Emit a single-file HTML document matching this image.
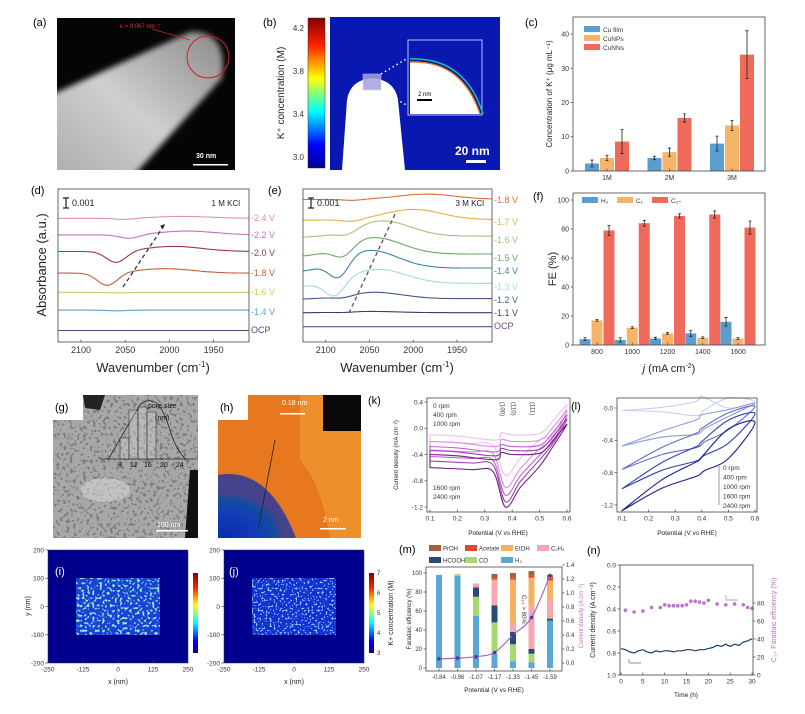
<!DOCTYPE html>
<html><head><meta charset="utf-8"><style>
html,body{margin:0;padding:0;background:#fff;}
svg{display:block;font-family:"Liberation Sans",sans-serif;}
</style></head><body>
<svg id="fig" width="805" height="714" viewBox="0 0 805 714" xmlns="http://www.w3.org/2000/svg">
<defs>
<linearGradient id="rodg" x1="0" y1="1" x2="1" y2="0"><stop offset="0" stop-color="#a8a8a8"/><stop offset="0.5" stop-color="#cfcfcf"/><stop offset="1" stop-color="#8a8a8a"/></linearGradient>
<linearGradient id="jet" x1="0" y1="1" x2="0" y2="0"><stop offset="0" stop-color="#00008f"/><stop offset="0.15" stop-color="#0000ff"/><stop offset="0.38" stop-color="#00ffff"/><stop offset="0.6" stop-color="#ffff00"/><stop offset="0.82" stop-color="#ff2000"/><stop offset="1" stop-color="#800000"/></linearGradient>
<filter id="blur2"><feGaussianBlur stdDeviation="3"/></filter>
<clipPath id="clipA"><rect x="57" y="18" width="178" height="152"/></clipPath>
<clipPath id="clipG"><path d="M83,395 L198,395 L198,538 L53,538 L53,420 L83,420 Z"/></clipPath>
<filter id="spots" x="0" y="0" width="100%" height="100%"><feTurbulence type="fractalNoise" baseFrequency="0.3" numOctaves="2" seed="3"/><feColorMatrix type="matrix" values="0 0 0 0 0.15  0 0 0 0 0.15  0 0 0 0 0.15  0 0 0 -9 4.0"/></filter>
<filter id="speck" x="0" y="0" width="100%" height="100%"><feTurbulence type="fractalNoise" baseFrequency="0.4" numOctaves="1" seed="7"/><feColorMatrix type="matrix" values="0 0 0 0 0.3  0 0 0 0 0.9  0 0 0 0 0.6  0 0 0 -9 4.1"/></filter>
<filter id="speck2" x="0" y="0" width="100%" height="100%"><feTurbulence type="fractalNoise" baseFrequency="0.5" numOctaves="1" seed="11"/><feColorMatrix type="matrix" values="0 0 0 0 0.25  0 0 0 0 0.6  0 0 0 0 1  0 0 0 -9 4.0"/></filter>
<radialGradient id="hblue" cx="0.1" cy="1" r="0.65"><stop offset="0" stop-color="#001a9a"/><stop offset="0.6" stop-color="#1a6ad0"/><stop offset="0.85" stop-color="#1aa060"/><stop offset="1" stop-color="#1aa060" stop-opacity="0"/></radialGradient>
</defs>

<!-- panel a -->
<g>
<rect x="57" y="18" width="178" height="152" fill="#050505"/>
<g clip-path="url(#clipA)"><path d="M40,100 L190,32 Q228,30 222,78 L125,185 L40,185 Z" fill="url(#rodg)" filter="url(#blur2)"/></g>
<circle cx="208" cy="57" r="21" fill="none" stroke="#d02020" stroke-width="1"/>
<line x1="152" y1="29" x2="190" y2="40" stroke="#d02020" stroke-width="0.8"/>
<text x="120" y="28" font-size="6" fill="#e03030">κ = 0.067 nm⁻¹</text>
<text x="196" y="158" font-size="7" fill="#fff" font-weight="bold">30 nm</text>
<rect x="193" y="164" width="35" height="1.5" fill="#fff"/>
</g>
<text x="33" y="26" font-size="11">(a)</text>

<!-- panel b -->
<g>
<rect x="308" y="18" width="17" height="150" fill="url(#jet)" stroke="#333" stroke-width="0.5"/>
<text x="304" y="31" font-size="8" text-anchor="end" fill="#333">4.2</text>
<text x="304" y="74" font-size="8" text-anchor="end" fill="#333">3.8</text>
<text x="304" y="117" font-size="8" text-anchor="end" fill="#333">3.4</text>
<text x="304" y="160" font-size="8" text-anchor="end" fill="#333">3.0</text>
<text transform="translate(284,93) rotate(-90)" font-size="10" text-anchor="middle" fill="#222">K⁺ concentration (M)</text>
<rect x="330" y="17" width="170" height="153" fill="#0818b0"/>
<path d="M342,170 L347,100 Q350,80 372,78 Q395,80 398,100 L405,170 Z" fill="#fff"/>
<rect x="363" y="74" width="18" height="16" fill="#a6a0e0" stroke="#d0d0ff" stroke-width="0.6" opacity="0.85"/>
<line x1="381" y1="74" x2="408" y2="58" stroke="#fff" stroke-width="1.5" stroke-dasharray="1.5,3"/>
<line x1="381" y1="90" x2="408" y2="106" stroke="#fff" stroke-width="1.5" stroke-dasharray="1.5,3"/>
<rect x="408" y="40" width="74" height="75" fill="#0818b0" stroke="#b8c0ff" stroke-width="1"/>
<path d="M410,62 Q462,60 480,114 L410,114 Z" fill="#fff"/>
<path d="M410,62 Q462,60 480,114" fill="none" stroke="#e08020" stroke-width="1.4"/>
<path d="M410,59 Q465,57 483,114" fill="none" stroke="#20c0a0" stroke-width="1.5"/>
<text x="418" y="96" font-size="6" fill="#000">2 nm</text>
<rect x="417" y="99" width="15" height="2" fill="#000"/>
<text x="455" y="155" font-size="12" font-weight="bold" fill="#fff">20 nm</text>
<rect x="466" y="160" width="20" height="3" fill="#fff"/>
</g>
<text x="263" y="26" font-size="11">(b)</text>

<text x="525" y="26" font-size="11">(c)</text>
<text x="31" y="194" font-size="11">(d)</text>
<text x="268" y="194" font-size="11">(e)</text>
<text x="533" y="200" font-size="11">(f)</text>

<!-- panel g -->
<g>
<g clip-path="url(#clipG)">
<rect x="53" y="395" width="145" height="143" fill="#a8a8a8"/>
<rect x="53" y="395" width="145" height="143" fill="#000" filter="url(#spots)" opacity="0.7"/>
<ellipse cx="105" cy="490" rx="25" ry="12" fill="#dcdcdc" opacity="0.5"/>
</g>
<path d="M83,395 L105,395 L100,410 L85,408 Z" fill="#222"/>
<path d="M190,470 L198,470 L198,538 L185,538 Z" fill="#111"/>
<path d="M153,402 Q160,400 170,430 Q175,448 186,460 M108,460 Q125,430 140,405 Q148,398 153,402" fill="none" stroke="#222" stroke-width="0.8"/>
<line x1="100" y1="459" x2="196" y2="459" stroke="#222" stroke-width="0.7"/>
<rect x="120" y="438" width="9" height="21" fill="#ddd" fill-opacity="0.3" stroke="#222" stroke-width="0.5"/>
<rect x="129" y="410" width="9" height="49" fill="#ddd" fill-opacity="0.3" stroke="#222" stroke-width="0.5"/>
<rect x="138" y="407" width="9" height="52" fill="#ddd" fill-opacity="0.3" stroke="#222" stroke-width="0.5"/>
<rect x="147" y="412" width="9" height="47" fill="#ddd" fill-opacity="0.3" stroke="#222" stroke-width="0.5"/>
<text x="118" y="467" font-size="7" fill="#111">8</text><text x="130" y="467" font-size="7" fill="#111">12</text><text x="144" y="467" font-size="7" fill="#111">16</text><text x="160" y="467" font-size="7" fill="#111">20</text><text x="176" y="467" font-size="7" fill="#111">24</text>
<text x="148" y="408" font-size="7" fill="#111">pore size</text><text x="155" y="420" font-size="7" fill="#111">(nm)</text>
<text x="157" y="527" font-size="7" fill="#fff">100 nm</text>
<rect x="156" y="530" width="32" height="1.5" fill="#fff"/>
</g>
<text x="55" y="411" font-size="11">(g)</text>

<!-- panel h -->
<g>
<path d="M248,395 L361,395 L361,538 L218,538 L218,420 L248,420 Z" fill="#e87820"/>
<path d="M300,395 L361,395 L361,538 L330,538 Q320,480 300,460 Z" fill="#f09a30" opacity="0.7"/>
<path d="M218,470 Q270,462 300,530 L305,538 L218,538 Z" fill="url(#hblue)"/>
<path d="M218,475 Q268,466 296,538 L218,538 Z" fill="#1030b0" opacity="0.75"/>
<rect x="323" y="395" width="38" height="36" fill="#080808"/>
<line x1="275" y1="440" x2="258" y2="530" stroke="#222" stroke-width="0.8"/>
<text x="282" y="405" font-size="7" fill="#fff">0.18 nm</text>
<rect x="280" y="413" width="25" height="1.5" fill="#fff"/>
<text x="323" y="522" font-size="7" fill="#fff">2 nm</text>
<rect x="320" y="528" width="26" height="1.5" fill="#fff"/>
</g>
<text x="220" y="411" font-size="11">(h)</text>

<!-- panel i / j -->
<g>
<rect x="48" y="550" width="140" height="113" fill="#00008c" stroke="#333" stroke-width="0.5"/>
<rect x="76" y="578" width="84" height="57" fill="#1a40d8"/>
<rect x="76" y="578" width="84" height="57" fill="#000" filter="url(#speck)"/>
<rect x="193" y="573" width="5" height="80" fill="url(#jet)"/>
</g>
<g>
<rect x="224" y="550" width="140" height="113" fill="#00008c" stroke="#333" stroke-width="0.5"/>
<rect x="252" y="578" width="84" height="57" fill="#1530d0"/>
<rect x="252" y="578" width="84" height="57" fill="#000" filter="url(#speck2)"/>
<rect x="369" y="573" width="5" height="80" fill="url(#jet)"/>
<text transform="translate(393,613) rotate(-90)" font-size="7" text-anchor="middle" fill="#222">K+ concentration (M)</text>
</g>
<text x="55" y="575" font-size="11" fill="#fff">(i)</text>
<text x="229" y="575" font-size="11" fill="#fff">(j)</text>
<text transform="translate(30,606) rotate(-90)" font-size="7" text-anchor="middle" fill="#222">y (nm)</text>
<text x="118" y="684" font-size="7" text-anchor="middle" fill="#222">x (nm)</text>
<text x="294" y="684" font-size="7" text-anchor="middle" fill="#222">x (nm)</text>

<text x="368" y="404" font-size="11">(k)</text>
<text x="571" y="410" font-size="11">(l)</text>
<text x="399" y="553" font-size="11">(m)</text>
<text x="587" y="554" font-size="11">(n)</text>

<g id="charts"></g>
</svg>
<script>
// ---------- data ----------
const cCats = ['1M','2M','3M'];
const cCuFilm = [2.2, 3.8, 8.0];
const cCuNPs = [3.8, 5.5, 13.3];
const cCuNNs = [8.6, 15.5, 34.0];
const cErrFilm = [1.0, 0.5, 2.2];
const cErrNPs = [0.8, 1.2, 1.5];
const cErrNNs = [3.5, 1.2, 7.0];
const cTicks = [0,10,20,30,40];

const fCats = ['800','1000','1200','1400','1600'];
const fH2 = [4, 3.5, 4.5, 8, 16];
const fC1 = [17, 12, 8, 5, 4.5];
const fC2 = [79, 84, 89, 90, 81];
const fErrH2 = [1, 1.5, 0.8, 2, 3];
const fErrC1 = [0.6, 0.6, 0.6, 0.6, 0.6];
const fErrC2 = [3.5, 2, 1.5, 2.5, 4.5];
const fTicks = [0,20,40,60,80,100];

const wnTicks = [2100,2050,2000,1950];
const dLabels = ['-2.4 V','-2.2 V','-2.0 V','-1.8 V','-1.6 V','-1.4 V','OCP'];
const dLevels = [9.7, 8.4, 7.1, 5.4, 3.9, 2.5, 0.9];
const dDipDepth = [0.1, 0.3, 0.9, 1.0, 0.05, 0.05, 0];
const dDipCenter = [2050, 2045, 2060, 2070, 2060, 2060, 2060];
const dBump = [0.15, 0.3, 0.4, 0.35, 0, 0, 0];
const dColors = ['#e4909e','#c470c0','#9c3a3c','#c2603e','#c8cc6a','#5aa0cc','#4e4a78'];

const eLabels = ['-1.8 V','-1.7 V','-1.6 V','-1.5 V','-1.4 V','-1.3 V','-1.2 V','-1.1 V','OCP'];
const eLevels = [11.2, 9.6, 8.3, 6.9, 5.8, 4.6, 3.4, 2.3, 1.2];
const eDipDepth = [0.1, 0.2, 0.4, 0.9, 1.5, 1.3, 0.2, 0.05, 0];
const eDipCenter = [2070, 2070, 2075, 2080, 2085, 2090, 2080, 2080, 2080];
const eBump = [0.4, 0.8, 1.2, 1.3, 1.4, 1.1, 0.5, 0.1, 0];
const eBumpCenter = [1985, 2000, 2035, 2045, 2050, 2040, 2045, 2050, 2050];
const eColors = ['#d8703c','#e8b040','#a8c070','#6aaa68','#3a86a8','#a8d8d8','#405a88','#3a3e6e','#6a4a8a'];

const kYTicks = [0.4,0.0,-0.4,-0.8,-1.2];
const kXTicks = [0.1,0.2,0.3,0.4,0.5,0.6];
const kTop = [0.35, 0.27, 0.2, 0.14, 0.06];
const kUpper = [-0.1, -0.2, -0.28, -0.34, -0.4];
const kLow = [-0.2, -0.33, -0.43, -0.5, -0.6];
const kPeak = [-0.72, -0.9, -1.02, -1.12, -1.2];
const kColors = ['#f0c0f0','#d890e0','#c060d0','#a040b0','#702080'];

const lYTicks = [0.0,-0.4,-0.8,-1.2];
const lStart = [-0.03, -0.47, -0.76, -1.0, -1.27];
const lEnd = [0.08, 0.06, 0.02, -0.07, -0.18];
const lColors = ['#c8d0f0','#8c9ce0','#6070c8','#3440b0','#1a2090'];

const mCats = ['-0.84','-0.96','-1.07','-1.17','-1.33','-1.45','-1.59'];
const mH2 = [98, 97, 55, 15, 7, 6, 50];
const mCO = [0, 2, 20, 33, 18, 9, 0];
const mHCOOH = [0, 0, 10, 18, 13, 5, 2];
const mC2H4 = [0, 0, 4, 25, 10, 45, 20];
const mEtOH = [0, 0, 0, 2, 45, 30, 20];
const mAcetate = [0, 0, 0, 1, 2, 2, 3];
const mPrOH = [0, 0, 0, 5, 5, 5, 3];
const mCurrent = [0.06, 0.07, 0.09, 0.15, 0.4, 0.65, 1.25];
const mLeftTicks = [0,20,40,60,80,100];
const mRightTicks = [0.0,0.2,0.4,0.6,0.8,1.0,1.2,1.4];

const nTime = [0,1,2,3,4,5,6,7,8,9,10,11,12,13,14,15,16,17,18,19,20,21,22,23,24,25,26,27,28,29,30];
const nCurrent = [0.76,0.77,0.79,0.8,0.78,0.77,0.79,0.8,0.78,0.79,0.78,0.78,0.79,0.78,0.78,0.77,0.77,0.78,0.77,0.77,0.76,0.75,0.73,0.74,0.72,0.74,0.72,0.73,0.7,0.69,0.67];
const nFETime = [1,3,5,7,9,10,11,12,13,14,15,16,17,18,19,20,22,24,26,28,29,30];
const nFE = [72,70,71,75,75,78,77,77,77,77,78,82,82,81,80,83,79,78,79,78,75,74];
const nXTicks = [0,5,10,15,20,25,30];
const nLeftTicks = [0.0,0.2,0.4,0.6,0.8,1.0];
const nRightTicks = [0,20,40,60,80];

// ---------- helpers ----------
const NS = 'http://www.w3.org/2000/svg';
const root = document.getElementById('charts');
function mk(tag, attrs, parent, txt){
  const el = document.createElementNS(NS, tag);
  for (const k in attrs) el.setAttribute(k, attrs[k]);
  if (txt !== undefined) el.textContent = txt;
  (parent || root).appendChild(el);
  return el;
}
function lin(d0,d1,r0,r1){ return v => r0 + (v-d0)/(d1-d0)*(r1-r0); }
function smooth(pts){
  let d = 'M'+pts[0][0].toFixed(1)+','+pts[0][1].toFixed(1);
  for (let i=0;i<pts.length-1;i++){
    const p0=pts[Math.max(0,i-1)],p1=pts[i],p2=pts[i+1],p3=pts[Math.min(pts.length-1,i+2)];
    const c1=[p1[0]+(p2[0]-p0[0])/6,p1[1]+(p2[1]-p0[1])/6];
    const c2=[p2[0]-(p3[0]-p1[0])/6,p2[1]-(p3[1]-p1[1])/6];
    d+=' C'+c1[0].toFixed(1)+','+c1[1].toFixed(1)+' '+c2[0].toFixed(1)+','+c2[1].toFixed(1)+' '+p2[0].toFixed(1)+','+p2[1].toFixed(1);
  }
  return d;
}
function frame(x,y,w,h,name){
  const r = mk('rect',{x:x,y:y,width:w,height:h,fill:'none',stroke:'#444','stroke-width':0.8});
  
  
}
function ytick(x,y,label,fs,side){
  const dir = side==='r' ? 1 : -1;
  mk('line',{x1:x,y1:y,x2:x+dir*2.5,y2:y,stroke:'#444','stroke-width':0.7});
  const t = mk('text',{x:x+dir*4,y:y+fs*0.35,'font-size':fs,'text-anchor':side==='r'?'start':'end',fill:'#333'},null,label);
  
  
}
function xtick(x,y,label,fs){
  mk('line',{x1:x,y1:y,x2:x,y2:y-2.5,stroke:'#444','stroke-width':0.7});
  const t = mk('text',{x:x,y:y+fs+2,'font-size':fs,'text-anchor':'middle',fill:'#333'},null,label);
  
  
}
function vtitle(x,y,txt,fs,name,col){
  const t = mk('text',{transform:'translate('+x+','+y+') rotate(-90)','font-size':fs,'text-anchor':'middle',fill:col||'#222'},null,txt);
  
  
}
function htitle(x,y,txt,fs,name){
  const t = mk('text',{x:x,y:y,'font-size':fs,'text-anchor':'middle',fill:'#222'},null,txt);
  
  
}
function errbar(x,y1,y2){
  const e = mk('path',{d:'M'+x+','+y1+'V'+y2+'M'+(x-1.5)+','+y1+'h3M'+(x-1.5)+','+y2+'h3',stroke:'#222','stroke-width':0.8,fill:'none'});
  
  
}

// ---------- panel c ----------
(function(){
  const xs = lin(0,2,607,732), ys = lin(0,45,171,17);
  const series = [[cCuFilm,cErrFilm,'#5a9ed0'],[cCuNPs,cErrNPs,'#f5b46a'],[cCuNNs,cErrNNs,'#ef6a5a']];
  series.forEach((s,si)=>{
    s[0].forEach((v,i)=>{
      const cx = xs(i) + (si-1)*15;
      const b = mk('rect',{x:cx-7,y:ys(v),width:14,height:ys(0)-ys(v),fill:s[2]});
      
      
      errbar(cx, ys(v-s[1][i]), ys(v+s[1][i]));
    });
  });
  frame(573,17,192,154,'plot-area-c');
  cTicks.forEach(t=>ytick(573,ys(t),String(t),7));
  cCats.forEach((c,i)=>xtick(xs(i),171,c,7));
  vtitle(552,94,'Concentration of K⁺  (μg mL⁻¹)',8,'y-axis-title-c');
  const names=['Cu film','CuNPs','CuNNs'];
  names.forEach((n,i)=>{
    const sw = mk('rect',{x:584,y:26+i*9,width:16,height:6,fill:series[i][2]});
    
    
    const t = mk('text',{x:603,y:32+i*9,'font-size':6.5,fill:'#333'},null,n);
    
    
  });
})();

// ---------- panel f ----------
(function(){
  const xs = lin(0,4,597,738), ys = lin(0,100,345,200);
  const series = [[fH2,fErrH2,'#5a9ed0'],[fC1,fErrC1,'#f5b46a'],[fC2,fErrC2,'#ef6a5a']];
  series.forEach((s,si)=>{
    s[0].forEach((v,i)=>{
      const cx = xs(i) + (si-1)*12;
      const b = mk('rect',{x:cx-5.5,y:ys(v),width:11,height:ys(0)-ys(v),fill:s[2]});
      
      
      errbar(cx, ys(v-s[1][i]), ys(v+s[1][i]));
    });
  });
  frame(573,193,192,152,'plot-area-f');
  fTicks.forEach(t=>ytick(573,ys(t),String(t),7));
  fCats.forEach((c,i)=>xtick(xs(i),345,c,7));
  vtitle(556,269,'FE (%)',11,'y-axis-title-f');
  const t = mk('text',{x:669,y:372,'font-size':11,'text-anchor':'middle',fill:'#222'});
  
  
  t.innerHTML = '<tspan font-style="italic">j</tspan> (mA cm<tspan dy="-4" font-size="7">-2</tspan><tspan dy="4">)</tspan>';
  const names=['H₂','C₁','C₂₊'];
  names.forEach((n,i)=>{
    const sw = mk('rect',{x:582+i*35,y:197,width:16,height:6,fill:series[i][2]});
    
    
    const lt = mk('text',{x:601+i*35,y:203,'font-size':6.5,fill:'#333'},null,n);
    
    
  });
})();

// ---------- panels d & e (spectra) ----------
function g(w,c,s){ return Math.exp(-Math.pow((w-c)/s,2)); }
function spectra(x0,x1,levels,depth,center,bump,bumpC,colors,labels,labelY,name){
  const xs = lin(2126,1910,x0,x1), ys = lin(0,12,342,189);
  levels.forEach((lv,i)=>{
    const pts=[];
    for(let w=2126; w>=1910; w-=4){
      const bc = bumpC ? bumpC[i] : center[i]-65;
      const v = lv - depth[i]*g(w,center[i],16) + bump[i]*g(w,bc,45) - (bumpC?0.25*depth[i]*(w>center[i]?1:0)*(1-g(w,center[i],30)):0);
      pts.push([xs(w),ys(v)]);
    }
    const p = mk('path',{d:smooth(pts),fill:'none',stroke:colors[i],'stroke-width':1.1});
    
    
    const t = mk('text',{x:x1+2,y:labelY[i]+3,'font-size':9,fill:colors[i]},null,labels[i]);
    
    
  });
  frame(x0,189,x1-x0,153,'plot-area-'+name);
  wnTicks.forEach(w=>xtick(xs(w),342,String(w),9));
  mk('path',{d:'M'+(x0+8)+',198v10M'+(x0+5)+',198h6M'+(x0+5)+',208h6',stroke:'#222','stroke-width':1.2,fill:'none'});
  const sc = mk('text',{x:x0+14,y:206,'font-size':9,fill:'#222'},null,'0.001');
  
  
}
spectra(58,249,dLevels,dDipDepth,dDipCenter,dBump,null,dColors,dLabels,[218,235,253,273,292,312,330],'d');
spectra(303,492,eLevels,eDipDepth,eDipCenter,eBump,eBumpCenter,eColors,eLabels,[200,222,240,258,271,287,300,313,326],'e');
(function(){
  const a = mk('text',{x:240,y:206,'font-size':8,'text-anchor':'end',fill:'#222'},null,'1 M KCl');
  
  
  const b = mk('text',{x:484,y:206,'font-size':8,'text-anchor':'end',fill:'#222'},null,'3 M KCl');
  
  
  mk('line',{x1:123,y1:287,x2:163,y2:227,stroke:'#333','stroke-width':1.3,'stroke-dasharray':'4,3'});
  mk('path',{d:'M165,224 l-5,2 l3,3 z',fill:'#222'});
  mk('line',{x1:349,y1:313,x2:396,y2:212,stroke:'#555','stroke-width':1.3,'stroke-dasharray':'4,3'});
  vtitle(46,265,'Absorbance (a.u.)',13,'y-axis-title-d');
  const t1 = mk('text',{x:153,y:372,'font-size':13,'text-anchor':'middle',fill:'#222'});
  t1.innerHTML='Wavenumber (cm<tspan dy="-5" font-size="8">-1</tspan><tspan dy="5">)</tspan>';
  
  
  const t2 = mk('text',{x:397,y:372,'font-size':13,'text-anchor':'middle',fill:'#222'});
  t2.innerHTML='Wavenumber (cm<tspan dy="-5" font-size="8">-1</tspan><tspan dy="5">)</tspan>';
  
  
})();

// ---------- panels i/j axes ----------
(function(){
  const ijX = [-250,-125,0,125,250], ijY = [200,100,0,-100,-200], cb=[7,6,5,4,3];
  [48,224].forEach(x0=>{
    const xs = lin(-250,250,x0,x0+140), ys = lin(-200,200,663,550);
    ijX.forEach(v=>xtick(xs(v),663,String(v),6.5));
    ijY.forEach(v=>ytick(x0,ys(v),String(v),6.5));
  });
  const cs = lin(3,7,653,573);
  cb.forEach(v=>{
    const t = mk('text',{x:377,y:cs(v)+2,'font-size':6,fill:'#333'},null,String(v));
    
    
  });
})();

// ---------- panel k ----------
(function(){
  const xs = lin(0.1,0.6,430,567), ys = lin(0.4,-1.2,402,507);
  kTop.forEach((top,i)=>{
    const lower = [[0.1,kLow[i]],[0.25,kLow[i]-0.03],[0.33,kLow[i]-0.06],[0.375,kPeak[i]],[0.43,(kPeak[i]+kLow[i])/2],[0.5,kLow[i]+0.02],[0.55,kLow[i]*0.45],[0.6,top]];
    const upper = [[0.6,top],[0.55,kUpper[i]+0.22],[0.5,kUpper[i]+0.02],[0.4,kUpper[i]],[0.36,kUpper[i]+0.03],[0.34,kUpper[i]-0.08],[0.2,kUpper[i]-0.02],[0.1,kUpper[i]]];
    const pts = lower.concat(upper.slice(1)).map(p=>[xs(p[0]),ys(p[1])]);
    const p = mk('path',{d:smooth(pts)+'Z',fill:'none',stroke:kColors[i],'stroke-width':1.1});
    
    
  });
  frame(427,398,143,114,'plot-area-k');
  kYTicks.forEach(v=>ytick(427,ys(v),v.toFixed(1),6.5));
  kXTicks.forEach(v=>xtick(xs(v),512,v.toFixed(1),6.5));
  vtitle(398,455,'Current density (mA cm⁻²)',6,'y-axis-title-k');
  htitle(498,535,'Potential (V vs RHE)',6.5,'x-axis-title-k');
  ['0 rpm','400 rpm','1000 rpm'].forEach((s,i)=>mk('text',{x:433,y:408+i*9,'font-size':6.5,fill:'#333'},null,s));
  ['1600 rpm','2400 rpm'].forEach((s,i)=>mk('text',{x:433,y:490+i*9,'font-size':6.5,fill:'#333'},null,s));
  [['(100)',0.35],['(110)',0.39],['(111)',0.46]].forEach(f=>{
    const t = mk('text',{transform:'translate('+(xs(f[1])+2)+',402) rotate(90)','font-size':6,fill:'#333'},null,f[0]);
    
    
  });
})();

// ---------- panel l ----------
(function(){
  const xs = lin(0.1,0.6,622,755), ys = lin(0.0,-1.2,408,505);
  lStart.forEach((s,i)=>{
    const e = lEnd[i], m = (s+e)/2;
    const lower = [[0.1,s],[0.25,s+(e-s)*0.3-0.05],[0.38,m-0.12],[0.41,m-0.05],[0.5,m+0.1],[0.6,e]];
    const upper = [[0.6,e],[0.5,e-0.08],[0.4,m+0.12],[0.38,m+0.06],[0.25,s+(e-s)*0.35],[0.1,s]];
    const pts = lower.concat(upper.slice(1)).map(p=>[xs(p[0]),ys(p[1])]);
    const p = mk('path',{d:smooth(pts),fill:'none',stroke:lColors[i],'stroke-width':1.1});
    
    
  });
  frame(617,398,140,114,'plot-area-l');
  lYTicks.forEach(v=>ytick(617,ys(v),v.toFixed(1),6.5));
  kXTicks.forEach(v=>xtick(xs(v),512,v.toFixed(1),6.5));
  htitle(687,535,'Potential (V vs RHE)',6.5,'x-axis-title-l');
  ['0 rpm','400 rpm','1000 rpm','1600 rpm','2400 rpm'].forEach((s,i)=>mk('text',{x:723,y:470+i*9.5,'font-size':6.5,fill:'#333'},null,s));
  mk('line',{x1:719,y1:466,x2:719,y2:505,stroke:'#555','stroke-width':0.6});
})();

// ---------- panel m ----------
(function(){
  const xs = lin(0,6,439,550), ys = lin(0,100,668,573), yr = lin(0,1.4,663,565);
  const stack = [[mH2,'#5aa6d6'],[mCO,'#a8d870'],[mHCOOH,'#2a4a7a'],[mC2H4,'#f4a8b0'],[mEtOH,'#f5b060'],[mAcetate,'#e04838'],[mPrOH,'#a8603a']];
  mCats.forEach((c,i)=>{
    let acc = 0;
    stack.forEach(s=>{
      const v = s[0][i];
      if(v>0){
        const b = mk('rect',{x:xs(i)-3,y:ys(acc+v),width:6,height:ys(acc)-ys(acc+v),fill:s[1]});
        
        
      }
      acc += v;
    });
  });
  const pts = mCurrent.map((v,i)=>[xs(i),yr(v)]);
  const l = mk('path',{d:smooth(pts),fill:'none',stroke:'#b060c0','stroke-width':1.2});
  
  
  pts.forEach(p=>{
    const c = mk('circle',{cx:p[0],cy:p[1],r:1.8,fill:'#4040a0'});
    
    
  });
  frame(426,567,136,104,'plot-area-m');
  mLeftTicks.forEach(v=>ytick(426,ys(v),String(v),6));
  mRightTicks.forEach(v=>ytick(562,yr(v),v.toFixed(1),6,'r'));
  mCats.forEach((c,i)=>xtick(xs(i),671,c,6));
  vtitle(411,619,'Faradaic efficiency (%)',6,'y-axis-title-m');
  vtitle(583,616,'Current density (A cm⁻²)',6,'y-axis-title-right-m','#c070c0');
  htitle(494,692,'Potential (V vs RHE)',6.5,'x-axis-title-m');
  const ann = mk('text',{transform:'translate(522,595) rotate(90)','font-size':6,fill:'#333'},null,'C₂₊ > 80%');
  
  
  const leg = [['PrOH','#a8603a'],['Acetate','#e04838'],['EtOH','#f5b060'],['C₂H₄','#f4a8b0'],['HCOOH','#2a4a7a'],['CO','#a8d870'],['H₂','#5aa6d6']];
  leg.forEach((e,i)=>{
    const x = 429 + (i%4)*36, y = 545 + Math.floor(i/4)*12;
    const sw = mk('rect',{x:x,y:y,width:12,height:6,fill:e[1]});
    
    
    const t = mk('text',{x:x+14,y:y+5.5,'font-size':6,fill:'#333'},null,e[0]);
    
    
  });
})();

// ---------- panel n ----------
(function(){
  const xs = lin(0,30,621,752), yl = lin(0,1,565,675), yr = lin(0,80,675,603);
  const pts = nTime.map((t,i)=>[xs(t),yl(nCurrent[i])]);
  const l = mk('polyline',{points:pts.map(p=>p.join(',')).join(' '),fill:'none',stroke:'#1e3a6a','stroke-width':1.2});
  
  
  nFETime.forEach((t,i)=>{
    const c = mk('circle',{cx:xs(t),cy:yr(nFE[i]),r:1.8,fill:'#c070d0'});
    
    
  });
  frame(620,565,133,110,'plot-area-n');
  nLeftTicks.forEach(v=>ytick(620,yl(v),v.toFixed(1),6.5));
  nRightTicks.forEach(v=>ytick(753,yr(v),String(v),6.5,'r'));
  nXTicks.forEach(v=>xtick(xs(v),675,String(v),6.5));
  vtitle(595,620,'Current density (A cm⁻²)',7,'y-axis-title-n');
  vtitle(776,620,'C₂₊ Faradaic efficiency (%)',7,'y-axis-title-right-n','#c070c0');
  htitle(686,697,'Time (h)',6.5,'x-axis-title-n');
  mk('path',{d:'M629,663h12M629,663v-4',stroke:'#4a70b0','stroke-width':0.7,fill:'none'});
  mk('path',{d:'M726,595v5h12',stroke:'#c070d0','stroke-width':0.7,fill:'none'});
})();
</script>
</body></html>
